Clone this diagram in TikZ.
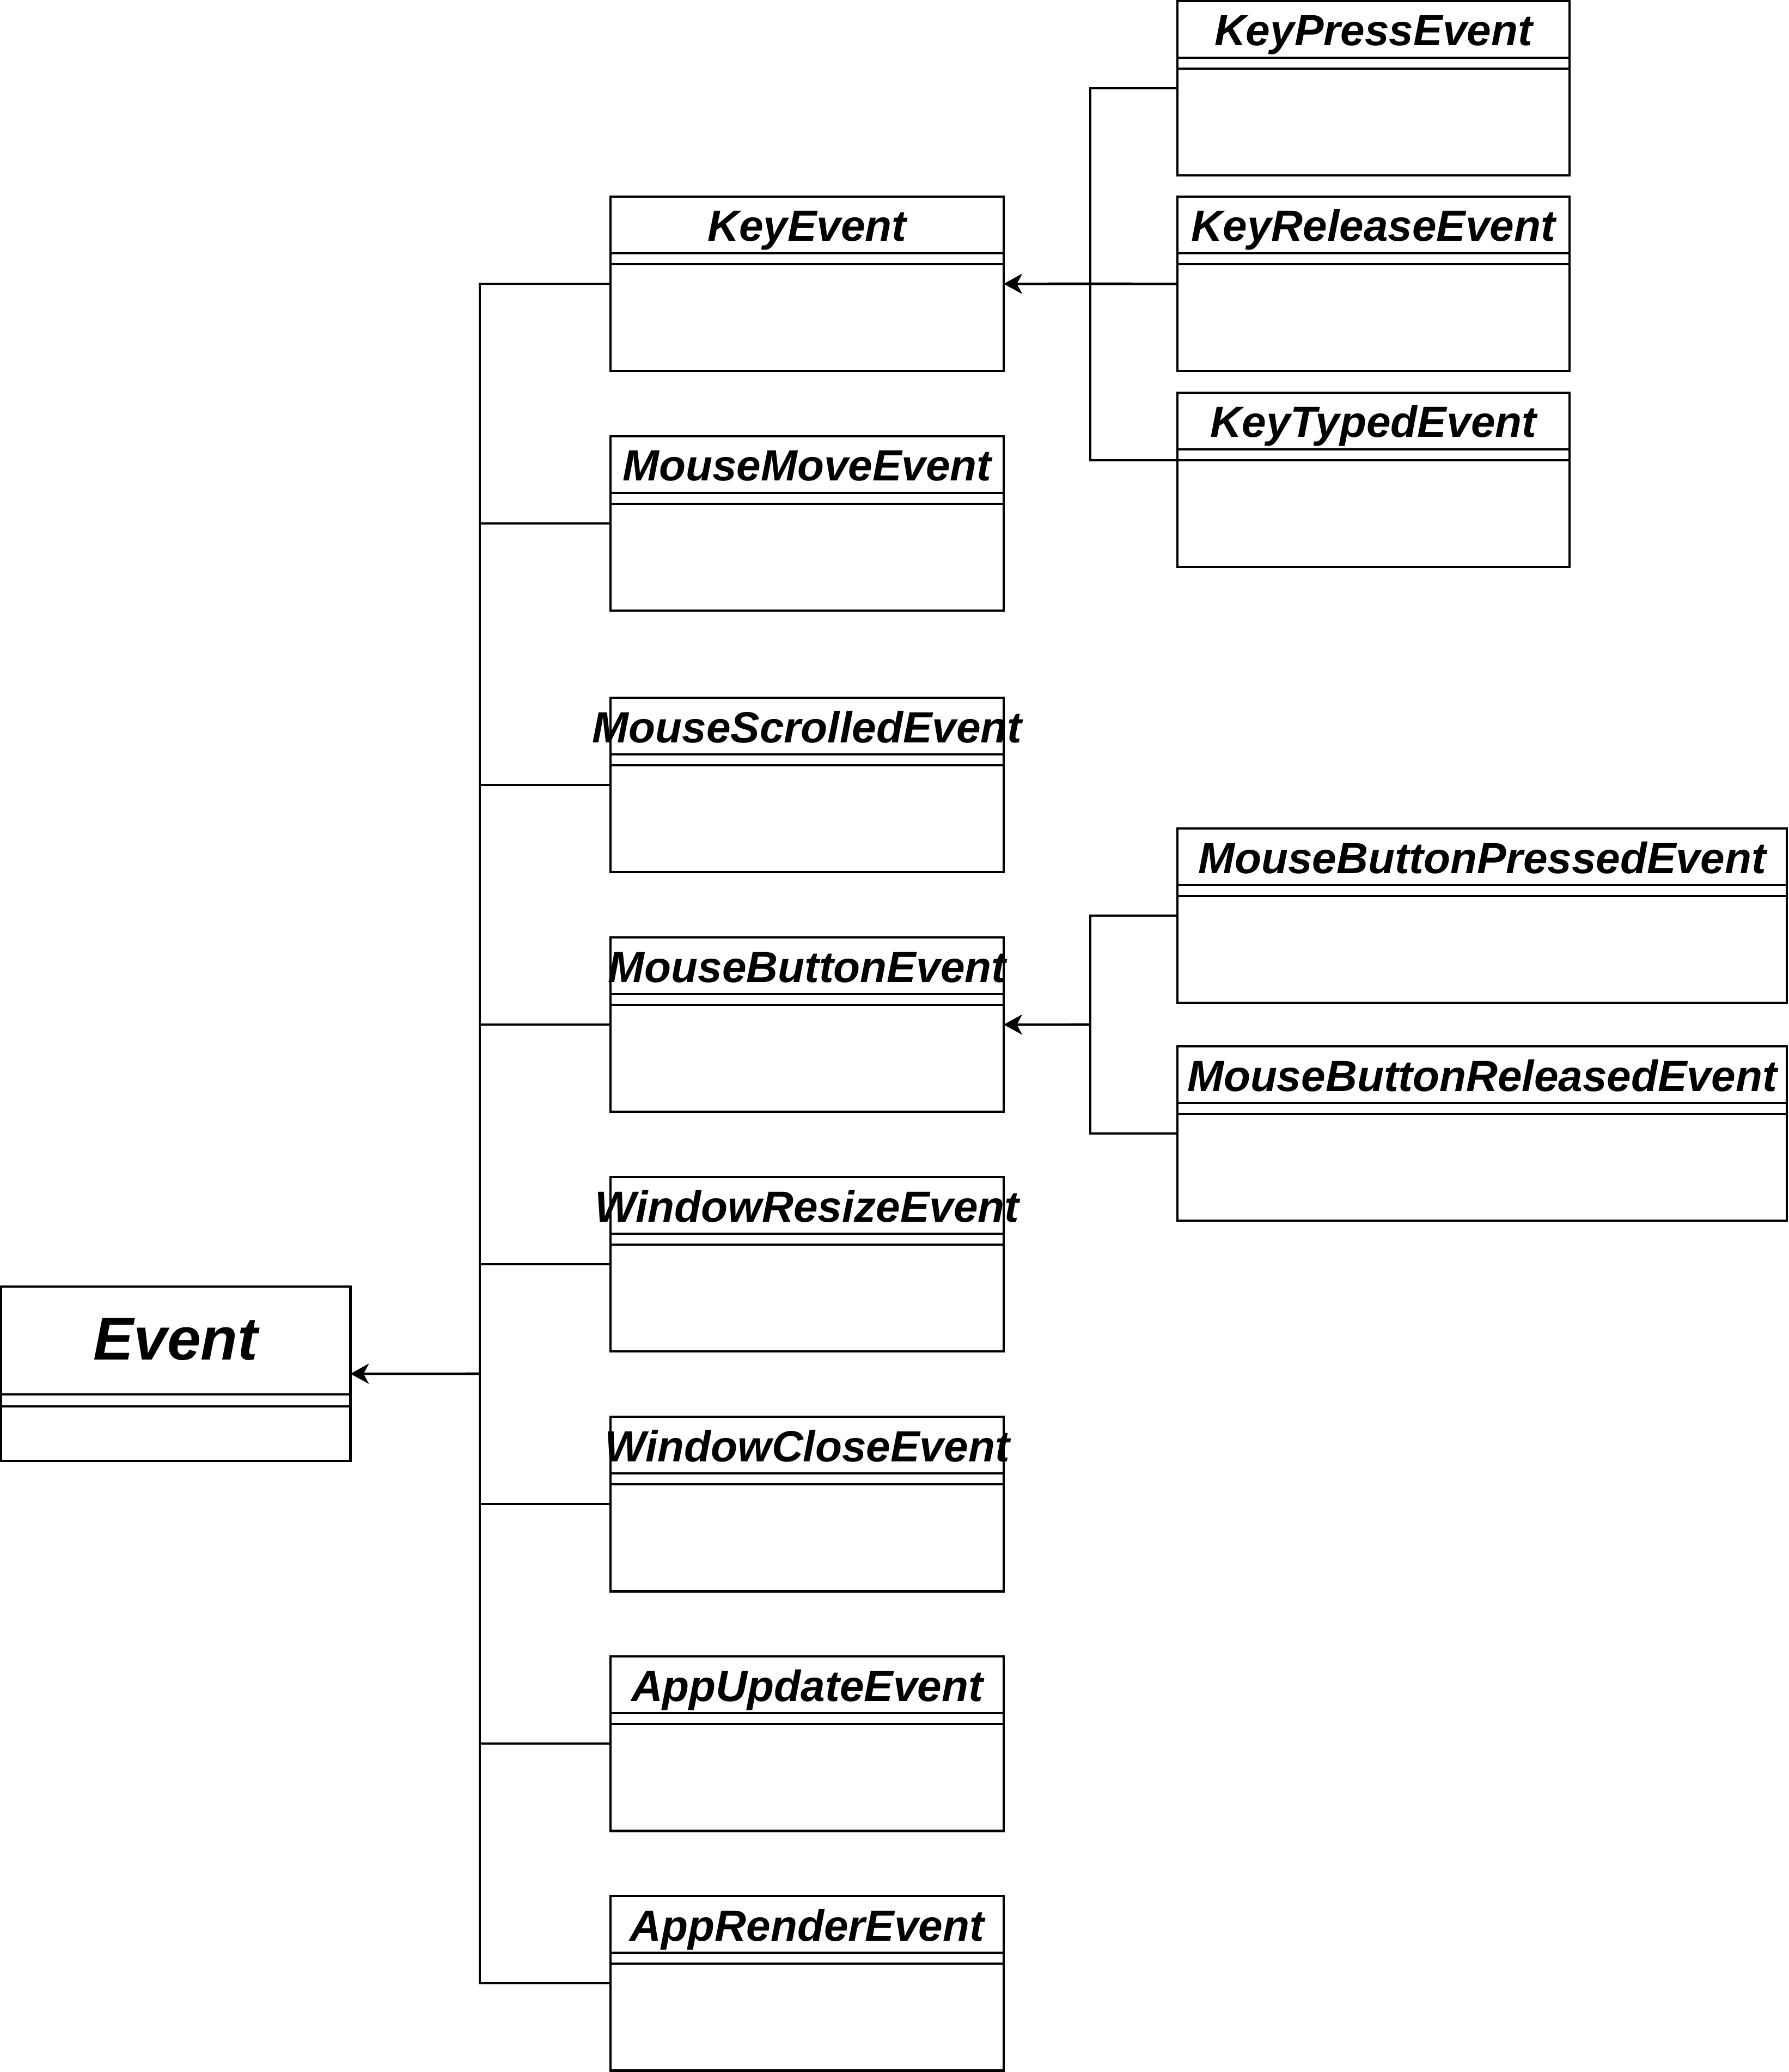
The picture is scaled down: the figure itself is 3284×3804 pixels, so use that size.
\documentclass[tikz,border=0pt]{standalone}
\usepackage{fontspec}
\setmainfont{Liberation Sans}
\usetikzlibrary{calc,arrows.meta}
\tikzset{
  clsbox/.style={draw=black, line width=1.3pt, fill=white, rectangle, inner sep=0pt, outer sep=0pt, minimum height=3.2cm},
  clsline/.style={draw=black, line width=1.3pt},
  clstitle/.style={inner sep=0pt, font=\fontsize{22.8}{27}\selectfont\bfseries\itshape},
  bigtitle/.style={inner sep=0pt, font=\fontsize{31.5}{38}\selectfont\bfseries\itshape},
  conn/.style={draw=black, line width=1.3pt},
  inherit/.style={conn, -{Stealth[length=0.34cm,width=0.37cm,inset=0.1cm]}}
}
\newcommand{\umlclass}[5]{%
  \node[clsbox, minimum width=#4*0.01cm, anchor=north west] (#1) at (#2,#3) {};
  \draw[clsline] ($(#1.north west)+(0,104)$) -- ($(#1.north east)+(0,104)$);
  \draw[clsline] ($(#1.north west)+(0,124)$) -- ($(#1.north east)+(0,124)$);
  \node[clstitle, anchor=base] (#1-t) at ($(#1.north)+(0,82)$) {#5};
}
\begin{document}
\begin{tikzpicture}[x=0.01cm, y=-0.01cm]
\useasboundingbox (0,0) rectangle (3284,3804);
% Event
\node[clsbox, minimum width=6.41cm, anchor=north west] (EV) at (2,2362) {};
\draw[clsline] ($(EV.north west)+(0,198)$) -- ($(EV.north east)+(0,198)$);
\draw[clsline] ($(EV.north west)+(0,220)$) -- ($(EV.north east)+(0,220)$);
\node[bigtitle, anchor=base] (EV-t) at ($(EV.north)+(0,134)$) {Event};
% left column
\umlclass{KE}{1121}{361}{722}{KeyEvent}
\umlclass{MME}{1121}{801}{722}{MouseMoveEvent}
\umlclass{MSE}{1121}{1281}{722}{MouseScrolledEvent}
\umlclass{MBE}{1121}{1721}{722}{MouseButtonEvent}
\umlclass{WRE}{1121}{2161}{722}{WindowResizeEvent}
\umlclass{WCE}{1121}{2601}{722}{WindowCloseEvent}
\umlclass{AUE}{1121}{3041}{722}{AppUpdateEvent}
\umlclass{ARE}{1121}{3481}{722}{AppRenderEvent}
% key children
\umlclass{KPE}{2162}{2}{720}{KeyPressEvent}
\umlclass{KRE}{2162}{361}{720}{KeyReleaseEvent}
\umlclass{KTE}{2162}{721}{720}{KeyTypedEvent}
% mouse button children
\umlclass{MBPE}{2162}{1521}{1119}{MouseButtonPressedEvent}
\umlclass{MBRE}{2162}{1921}{1119}{MouseButtonReleasedEvent}
% buses
\coordinate (bus) at (881,2522);
\coordinate (kbus) at (2002,521);
\coordinate (mbus) at (2002,1881);
\coordinate (KTc) at ($(KTE.north west)+(0,124)$);
% connectors to Event
\draw[inherit] (bus) -- (EV.east);
\foreach \c in {KE,MME,MSE,MBE,WRE,WCE,AUE,ARE}{
  \draw[conn] (\c.west) -| (bus);
}
% connectors to KeyEvent
\draw[inherit] (kbus) -- (KE.east);
\draw[conn] (KPE.west) -| (kbus);
\draw[conn] (KRE.west) -- (kbus);
\draw[conn] (KTc) -| (kbus);
% connectors to MouseButtonEvent
\draw[inherit] (mbus) -- (MBE.east);
\draw[conn] (MBPE.west) -| (mbus);
\draw[conn] (MBRE.west) -| (mbus);
\end{tikzpicture}
\end{document}
